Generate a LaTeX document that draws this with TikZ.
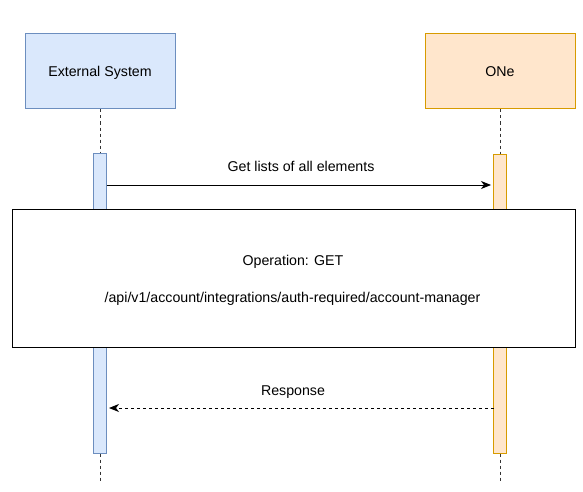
\documentclass[tikz,border=0pt]{standalone}
\usepackage{fontspec}
\setmainfont{Liberation Sans}
\usetikzlibrary{arrows.meta}
\definecolor{bluefill}{HTML}{DAE8FC}
\definecolor{bluedraw}{HTML}{6C8EBF}
\definecolor{orfill}{HTML}{FFE6CC}
\definecolor{ordraw}{HTML}{D79B00}
\definecolor{lifegray}{HTML}{333333}
\begin{document}
\begin{tikzpicture}[x=1pt,y=-1pt,
  every node/.style={font=\fontsize{14.2}{16}\selectfont, inner sep=0pt},
  actor/.style={draw, line width=1pt, minimum width=150pt, minimum height=75pt, text depth=0pt},
  actbar/.style={draw, line width=1pt, minimum width=13pt},
  lifeline/.style={draw=lifegray, line width=1pt, dash pattern=on 3pt off 3pt},
  msg/.style={draw=black, line width=1pt, -{Stealth[length=10pt,width=8pt,inset=3pt]}},
  reply/.style={msg, dash pattern=on 3pt off 3pt},
  lbl/.style={text depth=0pt}
]
\useasboundingbox (0,0) rectangle (583,492);
% actors
\node[actor, fill=bluefill, draw=bluedraw] (ext) at (100,71.5) {External System};
\node[actor, fill=orfill, draw=ordraw] (one) at (500,71.5) {ONe};
% activation bars
\node[actbar, fill=bluefill, draw=bluedraw, minimum height=300pt] (extbar) at (100,303) {};
\node[actbar, fill=orfill, draw=ordraw, minimum height=299pt] (onebar) at (500,303.5) {};
% lifeline ends
\coordinate (extend) at (100,482);
\coordinate (oneend) at (500,482);
\draw[lifeline] (ext.south) -- (extbar.north);
\draw[lifeline] (one.south) -- (onebar.north);
\draw[lifeline] (extbar.south) -- (extend);
\draw[lifeline] (onebar.south) -- (oneend);
% request
\coordinate (reqs) at (106.5,185);
\coordinate (reqe) at (491,185);
\draw[msg] (reqs) -- (reqe);
\node[lbl] (reqlbl) at (301,166.5) {Get lists of all elements};
% operation box
\node[draw=black, fill=white, line width=1pt, minimum width=563pt, minimum height=138pt] (op) at (293.5,278) {};
\node[lbl] (opl1) at (293,260) {Operation: GET};
\node[lbl] (opl2) at (292.5,297.5) {/api/v1/account/integrations/auth-required/account-manager};
% response
\coordinate (reps) at (493.5,408);
\coordinate (repe) at (109,408);
\draw[reply] (reps) -- (repe);
\node[lbl] (replbl) at (293,391) {Response};
\end{tikzpicture}
\end{document}
